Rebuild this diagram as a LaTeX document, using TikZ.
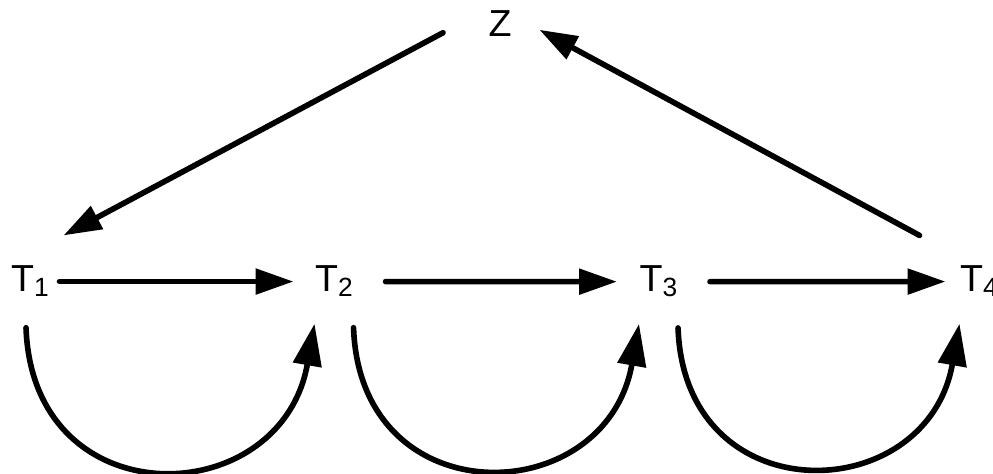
\documentclass[tikz,border=0pt]{standalone}
\usepackage{fontspec}
\setmainfont{Liberation Sans}
\usetikzlibrary{arrows.meta}
\def\tsub#1{T\raisebox{-0.5mm}{\fontsize{7.5}{9}\selectfont #1}}

\begin{document}
\begin{tikzpicture}[
		lbl/.style={inner sep=0, anchor=base west, font=\fontsize{10.7}{13}\selectfont},
		flow/.style={line width=1.6pt, line cap=round, -{Triangle[length=3.8mm, width=2.5mm]}},
		loop/.style={line width=1.6pt, line cap=round, -{Triangle[length=4.2mm, width=2.8mm]}, looseness=1.7}]
			%%%%% START %%%%%
			
			\useasboundingbox (0, 0) rectangle (9.93, 4.74);
			
			\node[lbl] (Z) at (4.88, 4.373) {Z};
			\node[lbl] (T1) at (0.105, 1.82) {\tsub{1}};
			\node[lbl] (T2) at (3.145, 1.82) {\tsub{2}};
			\node[lbl] (T3) at (6.39, 1.82) {\tsub{3}};
			\node[lbl] (T4) at (9.595, 1.82) {\tsub{4}};
			
			\draw[flow, shorten <=1mm, shorten >=2.1mm] (T1) -- (T2);
			\draw[flow, shorten <=3.2mm, shorten >=2.2mm] (T2) -- (T3);
			\draw[flow, shorten <=3.2mm, shorten >=1.4mm] (T3) -- (T4);
			
			\draw[flow] ([xshift=-4.5mm, yshift=-0.9mm]Z.west) -- ([xshift=1.4mm, yshift=3mm]T1.north east);
			\draw[flow] ([xshift=-4mm, yshift=3mm]T4.north west) -- ([xshift=2.7mm, yshift=-0.6mm]Z.east);
			
			\draw[loop] ([xshift=-0.4mm, yshift=-3mm]T1.south) to[out=-88, in=-100] ([yshift=-2.6mm]T2.south west);
			\draw[loop] ([yshift=-3mm]T2.south east) to[out=-88, in=-100] ([yshift=-2.6mm]T3.south west);
			\draw[loop] ([yshift=-3mm]T3.south east) to[out=-88, in=-100] ([yshift=-2.6mm]T4.south west);
			
			%%%%% END %%%%%
		\end{tikzpicture}
\end{document}
